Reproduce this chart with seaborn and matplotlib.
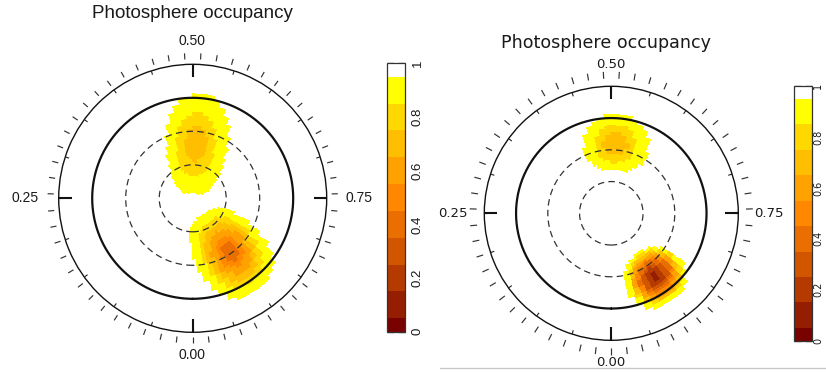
import numpy as np
import matplotlib
matplotlib.use("Agg")
import matplotlib.pyplot as plt
import seaborn as sns
from matplotlib.colors import ListedColormap, BoundaryNorm
from matplotlib.cm import ScalarMappable
from matplotlib.lines import Line2D

# ---------------- data ----------------
title_text = "Photosphere occupancy"
phase_label_text = ["0.00", "0.25", "0.50", "0.75"]
phase_label_pos = [0.0, 0.25, 0.5, 0.75]
cbar_tick_values = [0.0, 0.1, 0.2, 0.3, 0.4, 0.5, 0.6, 0.7, 0.8, 0.9, 1.0]
cbar_tick_text = ["0", "", "0.2", "", "0.4", "", "0.6", "", "0.8", "", "1"]
level_values = [0.0, 0.1, 0.2, 0.3, 0.4, 0.5, 0.6, 0.7, 0.8, 0.9, 1.0]
level_colors = ["#780200", "#961e00", "#b43a00", "#d25600", "#eb6e00",
                "#ff8800", "#ffa200", "#ffbe00", "#ffd800", "#ffff00", "#ffffff"]
# observation phases (outer tick marks)
obs_phases = [0.000, 0.018, 0.036, 0.055, 0.073, 0.091, 0.109, 0.127, 0.145, 0.164,
              0.182, 0.200, 0.218, 0.236, 0.255, 0.273, 0.291, 0.309, 0.327, 0.345,
              0.364, 0.382, 0.400, 0.418, 0.436, 0.455, 0.473, 0.491, 0.509, 0.527,
              0.545, 0.564, 0.582, 0.600, 0.618, 0.636, 0.655, 0.673, 0.691, 0.709,
              0.727, 0.745, 0.764, 0.782, 0.800, 0.818, 0.836, 0.855, 0.873, 0.891,
              0.909, 0.927, 0.945, 0.964, 0.982]
latitude_circles = [30, 60]     # colatitude of dashed circles
equator_colat = 90
outer_colat = 120

# spot descriptions: phase, colatitude centre, half-width (arc deg), half-height (deg),
# minimum occupancy, profile steepness
left_spot_phase = [0.512, 0.905]
left_spot_colat = [49.5, 59.0]
left_spot_width = [24.0, 26.0]
left_spot_height = [43.5, 41.0]
left_spot_min = [0.68, 0.35]
left_spot_profile = [1.5, 1.2]

right_spot_phase = [0.511, 0.905]
right_spot_colat = [66.5, 73.0]
right_spot_width = [24.0, 21.0]
right_spot_height = [26.0, 27.0]
right_spot_min = [0.66, 0.12]
right_spot_profile = [1.5, 1.7]

# ---------------- style ----------------
W, H = 826, 373
sns.set_style("white")
plt.rcParams["font.family"] = ["Liberation Sans", "DejaVu Sans"]

cmap = ListedColormap(sns.color_palette(level_colors))
bounds = [0.0] + [v + 0.05 for v in level_values[:-1]] + [1.0]
norm = BoundaryNorm(bounds, cmap.N)

fig = plt.figure(figsize=(W / 100, H / 100), dpi=100)
fig.patch.set_facecolor("white")


def fx(x):
    return x / W


def fy(y):
    return 1 - y / H


phase_edges = np.linspace(0, 1, 91)
colat_edges = np.arange(0, outer_colat + 1, 3)


def occupancy_map(sp, sc, sw, sh, smin, sprof):
    pc = 0.5 * (phase_edges[:-1] + phase_edges[1:])
    cc = 0.5 * (colat_edges[:-1] + colat_edges[1:])
    P, C = np.meshgrid(pc, cc)
    Z = np.ones_like(P)
    for p0, c0, w, h, vmin, k in zip(sp, sc, sw, sh, smin, sprof):
        dlon = (((P - p0) + 0.5) % 1.0 - 0.5) * 360.0
        arc = dlon * np.sin(np.radians(C))
        d = np.sqrt((arc / w) ** 2 + ((C - c0) / h) ** 2)
        v = np.where(d < 1, np.minimum(vmin + (1 - vmin) * d ** k, 0.9), 1.0)
        Z = np.minimum(Z, v)
    Z = np.round(Z * 10) / 10
    return np.ma.masked_where(Z > 0.95, Z)


def draw_panel(cx, cy, rpx, spots, outer_r, major_len, minor_len, font, fs_title,
               title_xy, fs_lab, label_xy, cbar_rect, fs_cb, cb_pad):
    ax = fig.add_axes([fx(cx - rpx), fy(cy + rpx), 2 * rpx / W, 2 * rpx / H],
                      projection="polar")
    ax.set_theta_zero_location("S")
    ax.set_theta_direction(-1)
    ax.set_ylim(0, outer_colat)
    ax.set_xticks([])
    ax.set_yticks([])
    ax.grid(False)
    ax.set_facecolor("none")
    ax.spines["polar"].set_linewidth(1.0)
    ax.spines["polar"].set_edgecolor("#111111")

    Z = occupancy_map(*spots)
    T, R = np.meshgrid(2 * np.pi * phase_edges, colat_edges)
    ax.pcolormesh(T, R, Z, cmap=cmap, norm=norm, shading="flat",
                  edgecolors="face", linewidth=0.3, zorder=1)

    th = np.linspace(0, 2 * np.pi, 721)
    ax.plot(th, np.full_like(th, equator_colat), color="#111111", lw=1.6, zorder=3)
    for c in latitude_circles:
        ax.plot(th, np.full_like(th, c), color="#333333", lw=0.9,
                linestyle=(0, (5.2, 3.4)), zorder=3)

    # inner phase ticks every 0.05
    for k in range(20):
        t = 2 * np.pi * k / 20
        ax.plot([t, t], [outer_colat - minor_len, outer_colat], color="#222222",
                lw=0.8, zorder=3, solid_capstyle="butt")
    for p in phase_label_pos:
        t = 2 * np.pi * p
        ax.plot([t, t], [outer_colat - major_len, outer_colat], color="#111111",
                lw=1.5, zorder=4, solid_capstyle="butt")
    # observation phase ticks outside
    for p in obs_phases:
        t = 2 * np.pi * p
        ax.plot([t, t], [outer_r[0], outer_r[1]], color="#333333", lw=0.85,
                clip_on=False, zorder=3, solid_capstyle="butt")

    fig.text(fx(title_xy[0]), fy(title_xy[1]), title_text, ha="center", va="center",
             fontsize=fs_title, family=font, color="#1a1a1a")
    for txt, (lx, ly) in zip(phase_label_text, label_xy):
        fig.text(fx(lx), fy(ly), txt, ha="center", va="center", fontsize=fs_lab,
                 family=font, color="#1a1a1a")

    cax = fig.add_axes([fx(cbar_rect[0]), fy(cbar_rect[3]),
                        (cbar_rect[2] - cbar_rect[0]) / W,
                        (cbar_rect[3] - cbar_rect[1]) / H])
    cb = fig.colorbar(ScalarMappable(norm=norm, cmap=cmap), cax=cax,
                      spacing="proportional")
    cb.outline.set_linewidth(0.9)
    cb.outline.set_edgecolor("#333333")
    cax.set_yticks(cbar_tick_values)
    cax.set_yticklabels(cbar_tick_text, rotation=90, va="center",
                        fontsize=fs_cb, family=font, color="#1a1a1a")
    cax.tick_params(axis="y", which="both", direction="in", left=True, right=True,
                    labelleft=False, labelright=True, length=5, width=0.9,
                    color="#222222", pad=cb_pad)
    cax.minorticks_off()
    return ax


# left panel
draw_panel(192.7, 198.3, 134,
           (left_spot_phase, left_spot_colat, left_spot_width, left_spot_height,
            left_spot_min, left_spot_profile),
           (124.5, 130.0), 11.6, 3.6, ["Liberation Sans", "DejaVu Sans"], 13.5,
           (192, 13),
           10.0, [(192, 355), (25.5, 198), (192, 41), (359, 198)],
           (386.7, 63.3, 405.0, 331.7), 9.5, 5)

# right panel
draw_panel(611.3, 213.3, 127,
           (right_spot_phase, right_spot_colat, right_spot_width, right_spot_height,
            right_spot_min, right_spot_profile),
           (127.3, 133.8), 12.3, 3.8, ["DejaVu Sans"], 12.6,
           (606, 43),
           9.5, [(611, 362), (453, 213), (611, 65), (769, 213)],
           (794.0, 86.0, 812.0, 340.7), 7.0, 1)

# screenshot border line at the bottom of the right image
fig.add_artist(Line2D([fx(440), 1.0], [fy(368), fy(368)], color="#c8c8c8", lw=1.0))

fig.savefig("out.png", dpi=100, facecolor="white")
